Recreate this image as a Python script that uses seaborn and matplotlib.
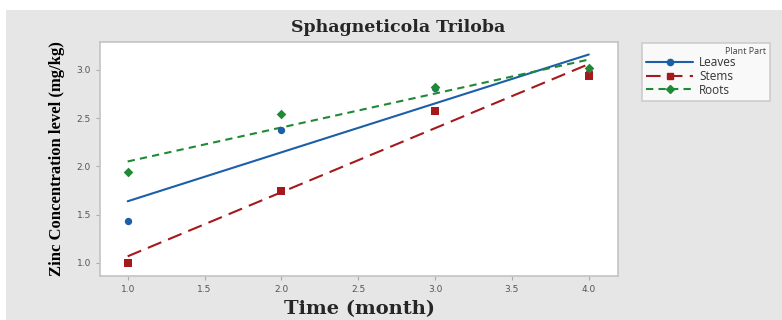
import numpy as np
import pandas as pd
import seaborn as sns
from matplotlib import pyplot as plt
from matplotlib.lines import Line2D
from matplotlib.patches import Rectangle

# data
months = [1, 2, 3, 4]
leaves = [1.43, 2.38, 2.815, 2.975]
stems = [1.00, 1.75, 2.57, 2.94]
roots = [1.94, 2.54, 2.82, 3.02]
parts = ['Leaves', 'Stems', 'Roots']
colors = ['#1d5ea8', '#a5191c', '#1e8a35']
markers = ['o', 's', 'D']
dashes = [(None, None), (7, 3.5), (3.5, 2.5)]

df = pd.DataFrame({
    'Time': months * 3,
    'Zinc': leaves + stems + roots,
    'Part': [p for p in parts for _ in months],
})

sns.set_style('white')
fig = plt.figure(figsize=(7.82, 3.2), dpi=100)
fig.patch.set_facecolor('white')
fig.patches.append(Rectangle((6 / 782, 0), 1, 310 / 320, transform=fig.transFigure,
                             facecolor='#e6e6e6', edgecolor='none', zorder=-10))

ax = fig.add_axes([100 / 782, 1 - 276 / 320, 518 / 782, 234 / 320])
ax.set_facecolor('white')

handles = []
for part, c, m, d in zip(parts, colors, markers, dashes):
    sub = df[df['Part'] == part]
    ls = '-' if d[0] is None else (0, d)
    sns.regplot(data=sub, x='Time', y='Zinc', ax=ax, ci=None, color=c, marker=m,
                scatter_kws={'s': 28 if m != 'D' else 24, 'linewidths': 0, 'zorder': 3,
                             'alpha': 1},
                line_kws={'linewidth': 1.5, 'linestyle': ls, 'zorder': 2})
    handles.append(Line2D([], [], color=c, marker=m, markersize=4.5, linewidth=1.5,
                          linestyle=ls, label=part))

ax.set_xlim(0.82, 4.19)
ax.set_ylim(0.865, 3.29)
ax.set_xticks(np.arange(1.0, 4.01, 0.5))
ax.set_yticks(np.arange(1.0, 3.01, 0.5))
ax.set_xticklabels([f'{v:.1f}' for v in np.arange(1.0, 4.01, 0.5)])
ax.set_yticklabels([f'{v:.1f}' for v in np.arange(1.0, 3.01, 0.5)])
ax.tick_params(axis='both', labelsize=6.5, labelcolor='#555555', color='#aaaaaa',
               length=3, width=0.8, direction='out', bottom=True, left=True)
for s in ax.spines.values():
    s.set_color('#c4c4c4')
    s.set_linewidth(1.2)

ax.set_xlabel('Time (month)', fontsize=14, fontweight='bold', family='DejaVu Serif',
              labelpad=4)
ax.set_ylabel('Zinc Concentration level (mg/kg)', fontsize=12, fontweight='bold',
              family='Liberation Serif', color='black')
ax.yaxis.set_label_coords(-0.068, 0.5)
fig.text(398 / 782, 1 - 28 / 320, 'Sphagneticola Triloba', ha='center', va='center',
         fontsize=12.5, fontweight='bold', family='DejaVu Serif')

leg = fig.legend(handles=handles, title='Plant Part', loc='upper left',
                 bbox_to_anchor=(636 / 782, 1 - 40 / 320, 140 / 782, 0.01),
                 mode='expand', handlelength=4.0, handletextpad=0.5,
                 labelspacing=0.05, borderpad=0.35, frameon=True, fancybox=False,
                 alignment='right', prop={'family': 'Open Sans', 'size': 8.5},
                 title_fontproperties={'family': 'Open Sans', 'size': 6.5})
leg.get_frame().set_edgecolor('#c4c4c4')
leg.get_frame().set_linewidth(1.2)
leg.get_title().set_color('#444444')
for t in leg.get_texts():
    t.set_color('#333333')

plt.savefig('out.png', dpi=100)
